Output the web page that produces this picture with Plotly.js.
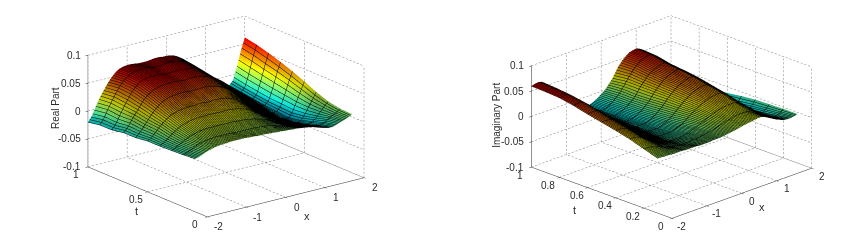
<!DOCTYPE html>
<html><head><meta charset="utf-8"><script src="https://cdn.plot.ly/plotly-3.0.1.min.js"></script>
<style>html,body{margin:0;background:#fff}#c{width:861px;height:240px}</style></head><body><div id="c"></div>
<script>
const xGrid=[-2,-1.9,-1.8,-1.7,-1.6,-1.5,-1.4,-1.3,-1.2,-1.1,-1,-.9,-.8,-.7,-.6,-.5,-.4,-.3,-.2,-.1,0,.1,.2,.3,.4,.5,.6,.7,.8,.9,1,1.1,1.2,1.3,1.4,1.5,1.6,1.7,1.8,1.9,2];
const tGrid=[.1,.2,.3,.4,.5,.6,.7,.8,.9,1];
// surface heights in thousandths, one row per t in tGrid
const realPartMilli=[
[-5,-3,0,3,5,7,8,9,9,10,10,10,10,10,9,9,8,8,8,7,7,6,6,5,5,4,4,3,2,1,0,-2,-5,-7,-9,-9,-7,-4,-2,1,5],
[-7,-4,-1,3,6,8,9,10,11,11,11,11,11,10,10,10,10,10,10,9,9,8,7,5,3,2,0,-2,-4,-6,-8,-10,-12,-14,-15,-15,-12,-7,-3,1,6],
[-8,-5,-1,3,7,10,12,14,15,16,16,16,16,16,16,16,16,15,15,14,13,12,10,8,6,3,0,-3,-6,-9,-12,-15,-18,-20,-22,-22,-19,-13,-5,3,10],
[-9,-5,0,6,11,16,19,21,23,24,25,25,25,25,25,25,25,25,25,24,23,21,19,16,12,8,4,0,-4,-8,-12,-16,-20,-23,-26,-28,-26,-18,-6,6,18],
[-9,-4,3,11,17,23,27,30,32,33,34,34,34,35,35,34,34,35,35,34,33,31,28,24,20,15,10,5,0,-5,-11,-16,-21,-25,-28,-30,-30,-21,-5,12,28],
[-12,-5,4,13,22,30,36,41,44,46,47,48,48,48,47,47,47,48,48,47,45,43,40,36,31,26,20,14,8,3,-3,-9,-15,-20,-25,-28,-28,-20,-2,19,37],
[-12,-4,7,17,27,37,44,49,53,55,56,57,57,57,56,55,55,56,56,55,54,52,49,45,40,34,28,22,16,10,4,-2,-8,-14,-19,-24,-26,-19,1,25,45],
[-16,-7,6,19,31,42,50,56,60,61,62,62,62,61,60,60,61,61,61,60,59,57,54,50,45,39,33,27,21,15,9,3,-3,-9,-15,-20,-23,-16,5,30,52],
[-16,-6,8,21,33,44,52,58,62,64,65,65,65,64,63,63,64,65,65,64,63,61,58,54,49,43,37,31,25,19,13,7,1,-5,-11,-17,-20,-13,9,36,58],
[-20,-10,5,19,30,41,50,57,62,64,65,65,64,63,63,63,64,65,65,64,64,63,61,57,52,46,40,34,28,22,16,10,5,0,-5,-11,-17,-9,14,40,62]];
const imagPartMilli=[
[8,8,7,7,6,6,6,6,5,5,5,5,4,4,4,4,5,5,5,6,7,8,9,10,12,13,14,15,16,17,16,13,9,5,1,-2,-5,-6,-6,-5,-3],
[17,17,16,14,12,9,6,4,2,1,0,-1,-1,-1,0,0,1,2,3,4,6,8,10,12,14,15,17,18,18,18,17,15,11,7,2,-3,-8,-11,-11,-8,-3],
[26,26,25,23,19,15,10,6,2,-1,-3,-5,-6,-6,-6,-5,-4,-3,0,2,6,9,12,15,18,20,22,23,24,24,24,21,17,11,5,-2,-9,-14,-15,-11,-4],
[33,33,32,30,26,20,14,9,4,0,-3,-6,-8,-9,-9,-9,-8,-6,-4,-1,4,9,14,18,22,26,29,31,32,33,33,30,25,18,11,2,-7,-15,-18,-14,-5],
[39,40,39,37,32,26,19,13,7,2,-2,-6,-9,-11,-12,-12,-12,-10,-7,-4,1,7,13,19,24,29,33,36,38,39,39,36,31,24,16,6,-4,-13,-19,-18,-8],
[45,46,46,44,38,31,24,17,11,5,0,-5,-9,-12,-14,-14,-14,-13,-10,-6,-1,5,12,20,26,32,37,40,43,44,45,42,37,29,20,10,-1,-11,-18,-19,-12],
[52,53,53,51,45,37,29,22,15,9,3,-2,-7,-11,-14,-16,-16,-15,-12,-8,-3,3,10,20,27,34,39,43,46,48,49,46,41,33,24,14,3,-8,-16,-18,-14],
[57,58,58,56,49,41,33,25,18,12,6,0,-5,-10,-14,-16,-17,-16,-13,-9,-4,2,9,20,28,36,42,46,49,51,52,49,44,37,29,20,10,0,-8,-12,-10],
[59,60,61,59,52,44,35,27,20,14,8,2,-3,-9,-13,-16,-18,-17,-14,-10,-4,2,10,20,30,39,46,51,55,57,58,55,50,43,35,27,18,9,1,-3,-5],
[60,62,63,61,54,45,36,28,21,15,9,3,-3,-9,-13,-16,-18,-17,-14,-10,-5,0,8,16,27,38,46,52,57,59,60,57,52,44,37,30,24,17,11,5,-1]];
const xTicks=[-2,-1,0,1,2];
const zTicks=[-.1,-.05,0,.05,.1];
const tTicksLeft=[0,.5,1];
const tTicksRight=[0,.2,.4,.6,.8,1];
const fam='Liberation Sans, Arial, sans-serif';
const ink='#2b2b2b';
const toZ=m=>m.map(r=>r.map(v=>v/1000));
function gridTrace(tT,sc,nx,nt,nz){
  const X=[],Y=[],Z=[],seg=(a,b,n)=>{for(let i=0;i<n;i++){const p=i/n,q=(i+.55)/n;
    X.push(a[0]+(b[0]-a[0])*p,a[0]+(b[0]-a[0])*q,null);Y.push(a[1]+(b[1]-a[1])*p,a[1]+(b[1]-a[1])*q,null);Z.push(a[2]+(b[2]-a[2])*p,a[2]+(b[2]-a[2])*q,null);}};
  xTicks.forEach(v=>{seg([v,0,-.1],[v,1,-.1],nt);seg([v,1,-.1],[v,1,.1],nz);});
  tT.forEach(v=>{seg([-2,v,-.1],[2,v,-.1],nx);seg([2,v,-.1],[2,v,.1],nz);});
  zTicks.forEach(v=>{seg([-2,1,v],[2,1,v],nx);seg([2,1,v],[2,0,v],nt);});
  return {type:'scatter3d',mode:'lines',x:X,y:Y,z:Z,connectgaps:false,line:{color:'#808080',width:1},hoverinfo:'skip',showlegend:false,scene:sc};
}
function surf(m,sc){
  return {type:'surface',x:xGrid,y:tGrid,z:toZ(m),colorscale:'Jet',cmin:-.075,cmax:.08,showscale:false,hoverinfo:'skip',scene:sc,
    lighting:{ambient:.68,diffuse:1,specular:0,roughness:1,fresnel:0},lightposition:{x:-6000,y:-7800,z:0},
    contours:{x:{show:true,start:-2,end:2,size:.04,color:'#000',width:1,highlight:false},
              y:{show:true,start:.1,end:1,size:.1,color:'#000',width:2,highlight:false},z:{highlight:false}}};
}
const axis=(range,tickvals)=>({title:{text:''},range,autorange:false,tickvals,showgrid:false,showbackground:false,showticklabels:false,zeroline:false,showspikes:false,showline:true,linecolor:'#222',linewidth:1,ticks:'inside',ticklen:3,tickcolor:'#222'});
const lab=(x,y,z,text,xs,ys,o={})=>Object.assign({x,y,z,text:String(text),showarrow:false,xshift:xs,yshift:ys,font:{family:fam,size:10,color:ink}},o);
function labels(tT,ox,ot,xT,tT2,zT){
  const a=[];
  xTicks.forEach(v=>a.push(lab(v,0,-.1,v,ox[0],ox[1])));
  tT.forEach(v=>a.push(lab(-2,v,-.1,v,ot[0],ot[1])));
  zTicks.forEach(v=>a.push(lab(-2,1,v,v,-5,0,{xanchor:'right'})));
  a.push(lab(0,0,-.1,'x',xT[0],xT[1],{font:{family:fam,size:11,color:ink}}));
  a.push(lab(-2,.5,-.1,'t',tT2[0],tT2[1],{font:{family:fam,size:11,color:ink}}));
  a.push(lab(-2,1,0,zT[2],zT[0],zT[1],{textangle:-90}));
  return a;
}
function scene(dom,aspect,eye,tT,anns){
  return {domain:dom,aspectmode:'manual',aspectratio:aspect,
    camera:{projection:{type:'orthographic'},up:{x:0,y:0,z:1},center:{x:0,y:0,z:0},eye},
    xaxis:axis([-2,2],xTicks),yaxis:axis([0,1],tT),zaxis:axis([-.1,.1],zTicks),annotations:anns};
}
const k=2.16;
const layout={width:861,height:240,margin:{l:0,r:0,t:0,b:0},paper_bgcolor:'#fff',showlegend:false,
 scene:scene({x:[0,452/861],y:[7/240,1]},{x:1.7,y:1.676,z:1.013},{x:-.578*k,y:-.749*k,z:.323*k},tTicksLeft,
   labels(tTicksLeft,[11,-10],[-12,-8],[21,-19],[-11,-19.5],[-33,3,'Real Part'])),
 scene2:scene({x:[482/861,1],y:[6/240,1]},{x:1.682,y:1.706,z:.929},{x:-.6567*k,y:-.6615*k,z:.3614*k},tTicksRight,
   labels(tTicksRight,[10,-8],[-11,-8],[20,-13.5],[-27,-17],[-35,1,'Imaginary Part']))};
Plotly.newPlot('c',[gridTrace(tTicksLeft,'scene',40,33,28),surf(realPartMilli,'scene'),gridTrace(tTicksRight,'scene2',38,38,26),surf(imagPartMilli,'scene2')],layout,{displayModeBar:false});
</script></body></html>
